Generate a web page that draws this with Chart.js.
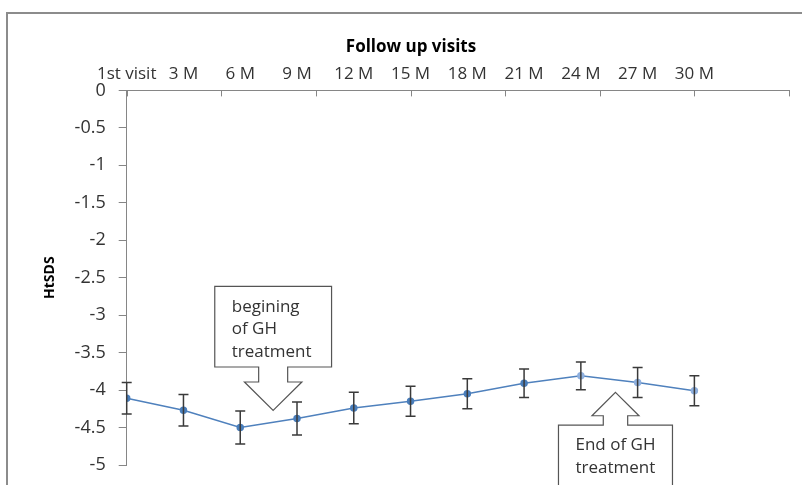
<!DOCTYPE html>
<html>
<head>
<meta charset="utf-8">
<script src="https://cdn.jsdelivr.net/npm/chart.js@4/dist/chart.umd.min.js"></script>
<style>
  html, body { margin: 0; padding: 0; background: #fff; }
  #wrap { position: relative; width: 802px; height: 485px; overflow: hidden; }
  #frame { position: absolute; left: 6px; top: 12px; width: 900px; height: 600px;
           border-left: 2px solid #8c8c8c; border-top: 2px solid #8c8c8c; }
  canvas { position: absolute; left: 0; top: 0; }
</style>
</head>
<body>
<div id="wrap">
  <div id="frame"></div>
  <canvas id="htChart" width="802" height="485"></canvas>
</div>
<script>
// Visitas y valores de HtSDS
const visitLabels = ['1st visit', '3 M', '6 M', '9 M', '12 M', '15 M', '18 M', '21 M', '24 M', '27 M', '30 M'];
const htsdsMean = [-4.11, -4.27, -4.50, -4.38, -4.24, -4.15, -4.05, -3.91, -3.81, -3.90, -4.01];
const htsdsErr = [0.21, 0.21, 0.22, 0.22, 0.21, 0.20, 0.20, 0.19, 0.185, 0.20, 0.20];
const yTicks = [0, -0.5, -1, -1.5, -2, -2.5, -3, -3.5, -4, -4.5, -5];
const startNote = ['begining', 'of GH', 'treatment'];
const endNote = ['End of GH', 'treatment'];

Chart.defaults.font.family = "'Open Sans', sans-serif";
Chart.defaults.color = '#333';

const axisGray = '#868686';
const xMax = 35 / 3;

// barras de error
const errorBars = {
    id: 'errorBars',
    afterDatasetsDraw(chart) {
        const { ctx, scales: { x, y } } = chart;
        ctx.save();
        ctx.strokeStyle = '#3a3a3a';
        ctx.lineWidth = 1.5;
        htsdsMean.forEach((v, i) => {
            const px = x.getPixelForValue(i);
            const top = y.getPixelForValue(v + htsdsErr[i]);
            const bot = y.getPixelForValue(v - htsdsErr[i]);
            ctx.beginPath();
            ctx.moveTo(px, top); ctx.lineTo(px, bot);
            ctx.moveTo(px - 5, top); ctx.lineTo(px + 5, top);
            ctx.moveTo(px - 5, bot); ctx.lineTo(px + 5, bot);
            ctx.stroke();
        });
        ctx.restore();
    }
};

// marcas del eje x (cada 5/3 de unidad, como en Excel)
const xTickMarks = {
    id: 'xTickMarks',
    afterDraw(chart) {
        const { ctx, scales: { x }, chartArea } = chart;
        ctx.save();
        ctx.strokeStyle = axisGray;
        ctx.lineWidth = 1;
        for (let k = 0; k <= 7; k++) {
            const px = Math.round(x.getPixelForValue(k * 5 / 3)) + 0.5;
            ctx.beginPath();
            ctx.moveTo(px, chartArea.top);
            ctx.lineTo(px, chartArea.top + 6);
            ctx.stroke();
        }
        ctx.restore();
    }
};

function drawCallout(ctx, tx, ty, dir, lines) {
    // dir = 1: flecha hacia abajo (caja arriba), dir = -1: flecha hacia arriba
    const s = dir;
    const headBase = dir === 1 ? 28.3 : 23.4;
    const headW = dir === 1 ? 28.7 : 23.5;
    const stemW = dir === 1 ? 14.5 : 12.2;
    const boxGap = dir === 1 ? 43.3 : 32.7;
    const boxW = dir === 1 ? 58.4 : 57;
    const boxH = dir === 1 ? 80.7 : 120;
    ctx.save();
    ctx.beginPath();
    ctx.moveTo(tx, ty);
    ctx.lineTo(tx + headW, ty - s * headBase);
    ctx.lineTo(tx + stemW, ty - s * headBase);
    ctx.lineTo(tx + stemW, ty - s * boxGap);
    ctx.lineTo(tx + boxW, ty - s * boxGap);
    ctx.lineTo(tx + boxW, ty - s * (boxGap + boxH));
    ctx.lineTo(tx - boxW, ty - s * (boxGap + boxH));
    ctx.lineTo(tx - boxW, ty - s * boxGap);
    ctx.lineTo(tx - stemW, ty - s * boxGap);
    ctx.lineTo(tx - stemW, ty - s * headBase);
    ctx.lineTo(tx - headW, ty - s * headBase);
    ctx.closePath();
    ctx.fillStyle = '#fff';
    ctx.fill();
    ctx.strokeStyle = '#555';
    ctx.lineWidth = 1.2;
    ctx.stroke();

    const boxTop = dir === 1 ? ty - boxGap - boxH : ty + boxGap;
    ctx.fillStyle = '#333';
    ctx.font = "17px 'Open Sans', sans-serif";
    ctx.textBaseline = 'middle';
    ctx.textAlign = 'left';
    lines.forEach((t, i) => {
        ctx.fillText(t, tx - boxW + 17, boxTop + 20.5 + i * 22.5);
    });
    ctx.restore();
}

const callouts = {
    id: 'callouts',
    afterDraw(chart) {
        const { ctx, scales: { x, y } } = chart;
        drawCallout(ctx, x.getPixelForValue(2.58), y.getPixelForValue(-4.27), 1, startNote);
        drawCallout(ctx, x.getPixelForValue(8.61), y.getPixelForValue(-4.03), -1, endNote);
    }
};

const pointColors = htsdsMean.map((_, i) => i >= 8 ? '#8fb0de' : '#4a7ebb');

new Chart(document.getElementById('htChart'), {
    type: 'line',
    data: {
        datasets: [{
            label: 'HtSDS',
            data: htsdsMean.map((v, i) => ({ x: i, y: v })),
            borderColor: '#4f81bd',
            borderWidth: 1.5,
            pointRadius: 3,
            pointBackgroundColor: pointColors,
            pointBorderColor: pointColors,
            tension: 0
        }]
    },
    options: {
        responsive: false,
        animation: false,
        layout: { padding: { left: 33, right: 13, top: 0, bottom: 20 } },
        plugins: {
            legend: { display: false },
            tooltip: { enabled: false },
            title: {
                display: true,
                text: 'Follow up visits',
                color: '#000',
                font: { size: 17, weight: 'bold' },
                padding: { top: 37, bottom: 0 }
            }
        },
        scales: {
            x: {
                type: 'linear',
                position: 'top',
                min: 0,
                max: xMax,
                grid: { display: false, drawTicks: false },
                border: { display: true, color: axisGray, width: 1 },
                afterBuildTicks: (scale) => {
                    scale.ticks = visitLabels.map((_, i) => ({ value: i }));
                },
                afterFit: (scale) => { scale.height = 33; },
                ticks: {
                    autoSkip: false,
                    maxRotation: 0,
                    padding: 6,
                    color: '#333',
                    font: { size: 17 },
                    callback: (value) => visitLabels[value]
                }
            },
            y: {
                min: -5,
                max: 0,
                afterBuildTicks: (scale) => {
                    scale.ticks = yTicks.map(v => ({ value: v }));
                },
                afterFit: (scale) => {
                    scale.width = 126.7 - 33;
                    scale.paddingTop = 0;
                    scale.paddingBottom = 0;
                },
                grid: { display: true, drawOnChartArea: false, drawTicks: true, tickLength: 8, color: axisGray },
                border: { display: true, color: axisGray, width: 1 },
                ticks: {
                    padding: 13,
                    color: '#333',
                    font: { size: 18 },
                    callback: (value) => String(value)
                },
                title: {
                    display: true,
                    text: 'HtSDS',
                    color: '#000',
                    font: { size: 14, weight: 'bold' },
                    padding: { top: 8.6, bottom: 0 }
                }
            }
        }
    },
    plugins: [errorBars, xTickMarks, callouts]
});
</script>
</body>
</html>
